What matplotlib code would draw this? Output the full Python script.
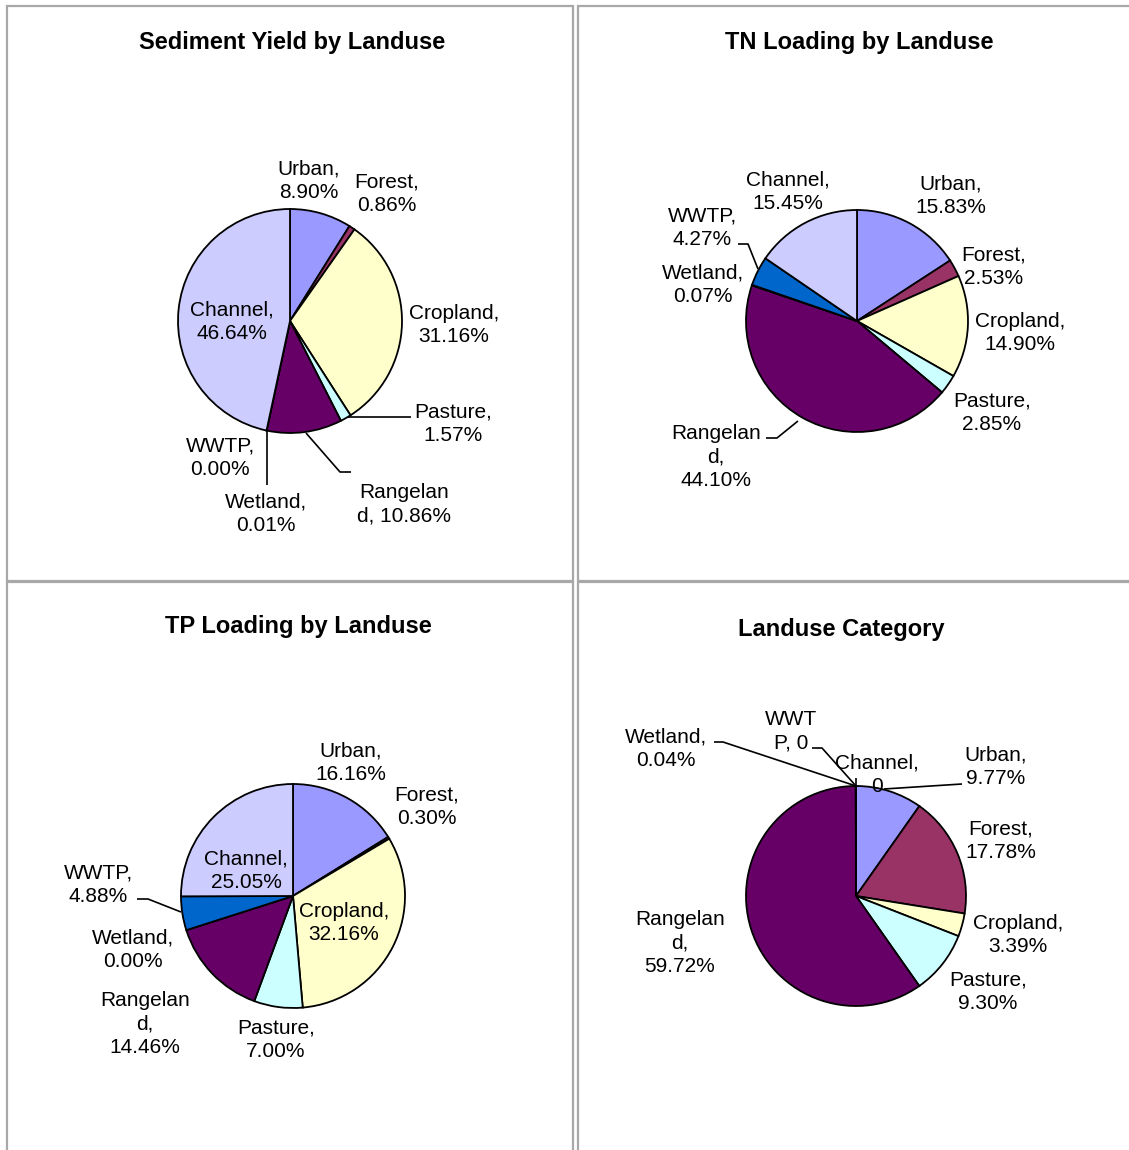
import matplotlib
matplotlib.use("Agg")
import matplotlib.pyplot as plt
from matplotlib.patches import Rectangle

plt.rcParams['font.family'] = ['Liberation Sans', 'DejaVu Sans']

W, H = 1129, 1150

landuses = ["Urban", "Forest", "Cropland", "Pasture", "Rangeland", "Wetland", "WWTP", "Channel"]
colors = ["#9999FF", "#993366", "#FFFFCC", "#CCFFFF", "#660066", "#FF8080", "#0066CC", "#CCCCFF"]

# percent share per landuse, same order as `landuses`
sediment = [8.90, 0.86, 31.16, 1.57, 10.86, 0.01, 0.00, 46.64]
tn_load = [15.83, 2.53, 14.90, 2.85, 44.10, 0.07, 4.27, 15.45]
tp_load = [16.16, 0.30, 32.16, 7.00, 14.46, 0.00, 4.88, 25.05]
landuse_area = [9.77, 17.78, 3.39, 9.30, 59.72, 0.04, 0.00, 0.00]

# layout in pixels (from top-left): pie centre, radius, label templates/positions, leader lines
charts = [
    dict(title="Sediment Yield by Landuse", title_xy=(292, 43), values=sediment,
         center=(290, 321), r=112,
         labels=[("Urban,\n{:.2f}%", 309, 181), ("Forest,\n{:.2f}%", 387, 194),
                 ("Cropland,\n{:.2f}%", 454, 325), ("Pasture,\n{:.2f}%", 453, 424),
                 ("Rangelan\nd, {:.2f}%", 404, 504), ("Wetland,\n{:.2f}%", 266, 514),
                 ("WWTP,\n{:.2f}%", 220, 458), ("Channel,\n{:.2f}%", 232, 322)],
         leaders=[[(348, 417), (411, 417)],
                  [(306, 433), (340, 472), (351, 472)],
                  [(267, 429), (267, 485)]]),
    dict(title="TN Loading by Landuse", title_xy=(859, 43), values=tn_load,
         center=(857, 321), r=111,
         labels=[("Urban,\n{:.2f}%", 951, 196), ("Forest,\n{:.2f}%", 994, 267),
                 ("Cropland,\n{:.2f}%", 1020, 333), ("Pasture,\n{:.2f}%", 992, 413),
                 ("Rangelan\nd,\n{:.2f}%", 716, 457), ("Wetland,\n{:.2f}%", 703, 285),
                 ("WWTP,\n{:.2f}%", 702, 228), ("Channel,\n{:.2f}%", 788, 192)],
         leaders=[[(738, 244), (748, 244), (758, 269)],
                  [(766, 438), (777, 438), (798, 421)]]),
    dict(title="TP Loading by Landuse", title_xy=(298, 626), values=tp_load,
         center=(293, 896), r=112,
         labels=[("Urban,\n{:.2f}%", 351, 763), ("Forest,\n{:.2f}%", 427, 807),
                 ("Cropland,\n{:.2f}%", 344, 923), ("Pasture,\n{:.2f}%", 276, 1040),
                 ("Rangelan\nd,\n{:.2f}%", 145, 1024), ("Wetland,\n{:.2f}%", 133, 950),
                 ("WWTP,\n{:.2f}%", 98, 885), ("Channel,\n{:.2f}%", 246, 871)],
         leaders=[[(137, 899), (148, 899), (181, 912)]]),
    dict(title="Landuse Category", title_xy=(841, 630), values=landuse_area,
         center=(856, 896), r=110,
         labels=[("Urban,\n{:.2f}%", 996, 767), ("Forest,\n{:.2f}%", 1001, 841),
                 ("Cropland,\n{:.2f}%", 1018, 935), ("Pasture,\n{:.2f}%", 988, 992),
                 ("Rangelan\nd,\n{:.2f}%", 680, 943), ("Wetland,\n{:.2f}%", 666, 749),
                 ("WWT\nP, {:.0f}", 791, 731), ("Channel,\n{:.0f}", 877, 775)],
         leaders=[[(714, 742), (723, 742), (856, 786)],
                  [(812, 748), (822, 748), (856, 786)],
                  [(856, 778), (856, 786)],
                  [(884, 789), (962, 784)]]),
]

fig = plt.figure(figsize=(W / 100, H / 100), dpi=100)
fig.patch.set_facecolor("white")

# panel frames
for x0, y0, x1, y1 in [(7, 6, 573, 581), (578, 6, 1140, 581),
                       (7, 582, 573, 1160), (578, 582, 1140, 1160)]:
    fig.add_artist(Rectangle((x0 / W, 1 - y1 / H), (x1 - x0) / W, (y1 - y0) / H,
                             transform=fig.transFigure, fill=False,
                             ec="#a8a8a8", lw=1.6))

S = 500  # pie axes box size in px
for c in charts:
    cx, cy = c["center"]
    r = c["r"]
    ax = fig.add_axes([(cx - S / 2) / W, 1 - (cy + S / 2) / H, S / W, S / H])
    lim = S / 2 / r
    ax.pie(c["values"], colors=colors, startangle=90, counterclock=False, radius=1,
           wedgeprops=dict(edgecolor="black", linewidth=1.3))
    ax.set_xlim(-lim, lim)
    ax.set_ylim(-lim, lim)
    ax.set_aspect("equal")
    ax.axis("off")

    def to_data(x, y):
        return (x - cx) / r, (cy - y) / r

    for (tmpl, x, y), v in zip(c["labels"], c["values"]):
        dx, dy = to_data(x, y)
        ax.text(dx, dy, tmpl.format(v), ha="center", va="center",
                multialignment="center", fontsize=15, linespacing=1.32)

    for pts in c["leaders"]:
        xs, ys = zip(*[to_data(x, y) for x, y in pts])
        ax.plot(xs, ys, color="black", lw=1.2, solid_capstyle="butt")

    tx, ty = c["title_xy"]
    fig.text(tx / W, 1 - ty / H, c["title"], ha="center", va="center",
             fontsize=17, fontweight="bold")

fig.savefig("out.png", dpi=100, facecolor="white")
